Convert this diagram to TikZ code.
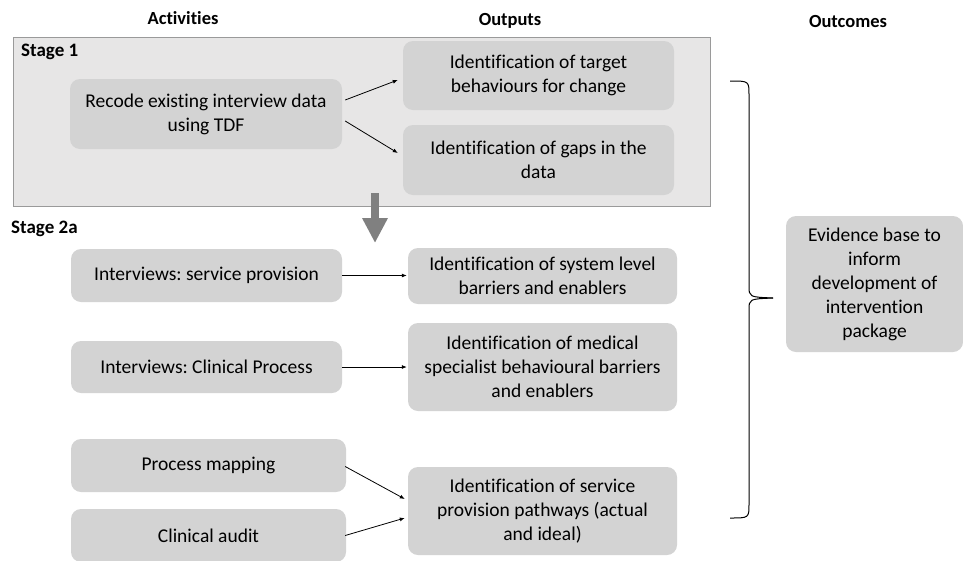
\documentclass[tikz,border=0pt]{standalone}
\usepackage{fontspec}
\setmainfont{Carlito}[Ligatures=NoCommon]
\usetikzlibrary{arrows.meta}
\definecolor{framegray}{HTML}{E7E6E6}
\definecolor{framedraw}{HTML}{9A9A9A}
\definecolor{boxgray}{HTML}{D3D3D3}
\definecolor{fatgray}{HTML}{808080}
\frenchspacing

\begin{document}
\begin{tikzpicture}[x=1pt,y=-1pt,
	box/.style={fill=boxgray,rounded corners=10pt,align=center,inner sep=2pt,font=\fontsize{19.5}{24}\selectfont},
	head/.style={font=\bfseries\fontsize{18.5}{20}\selectfont},
	stagelabel/.style={anchor=west,inner sep=0pt,font=\bfseries\fontsize{19}{20}\selectfont},
	frame/.style={fill=framegray,draw=framedraw,line width=0.8pt,inner sep=0pt},
	arr/.style={-{Latex[length=5pt,width=4pt]},line width=0.8pt},
	fatarrow/.style={-{Triangle[length=25pt,width=24pt]},line width=8pt,draw=fatgray},
	brace/.style={line width=1pt}
    ]
\useasboundingbox (0,0) rectangle (963,560);

% stage 1
\node[frame,minimum width=697pt,minimum height=169pt] (stageone) at (361.5,121.5) {};
\node[stagelabel] (stageonelabel) at (21,52) {Stage 1};
\node[box,minimum width=272pt,minimum height=70pt] (recode) at (206,114) {Recode existing interview data\\using TDF};
\node[box,minimum width=271pt,minimum height=69pt] (target) at (538.5,75.5) {Identification of target\\behaviours for change};
\node[box,minimum width=271pt,minimum height=70pt] (gaps) at (538.5,160) {Identification of gaps in the\\data};

% headers
\node[head] (activities) at (183,18) {Activities};
\node[head] (outputs) at (510,21) {Outputs};
\node[head] (outcomes) at (848,21) {Outcomes};

% stage 2a
\node[stagelabel] (stagetwolabel) at (11,229) {Stage 2a};
\node[box,minimum width=271pt,minimum height=53pt] (service) at (206.5,275.5) {Interviews: service provision};
\node[box,minimum width=269pt,minimum height=56pt] (system) at (542.5,276) {Identification of system level\\barriers and enablers};
\node[box,minimum width=271pt,minimum height=52pt] (clinical) at (206.5,367) {Interviews: Clinical Process};
\node[box,minimum width=269pt,minimum height=88pt] (medical) at (542.5,367) {Identification of medical\\specialist behavioural barriers\\and enablers};
\node[box,minimum width=275pt,minimum height=53pt] (mapping) at (208.5,465.5) {Process mapping};
\node[box,minimum width=275pt,minimum height=53pt] (audit) at (208.5,535.5) {Clinical audit};
\node[box,minimum width=269pt,minimum height=88pt] (pathways) at (542.5,511) {Identification of service\\provision pathways (actual\\and ideal)};

% outcome
\node[box,minimum width=177pt,minimum height=136pt] (evidence) at (874.5,284) {Evidence base to\\inform\\development of\\intervention\\package};

% connectors
\draw[arr] ([shift={(3pt,14pt)}]recode.east) -- ([shift={(-5pt,-4.5pt)}]target.west);
\draw[arr] ([shift={(3pt,-7pt)}]recode.east) -- ([shift={(-5pt,7pt)}]gaps.west);
\draw[arr] (service.east) -- ([xshift=-1pt]service.east -| system.west);
\draw[arr] (clinical.east) -- ([xshift=-1pt]clinical.east -| medical.west);
\draw[arr] ([shift={(-1pt,-1pt)}]mapping.east) -- ([shift={(-3pt,12pt)}]pathways.west);
\draw[arr] ([xshift=-1pt]audit.east) -- ([shift={(-3pt,-7pt)}]pathways.west);

\coordinate (downtop) at (375,193);
\coordinate (downbot) at (375,243);
\draw[fatarrow] (downtop) -- (downbot);

% bracket
\coordinate (bracetop) at (730,81);
\coordinate (bracetip) at (773,298);
\coordinate (bracebot) at (730,518);
\draw[brace] (bracetop) .. controls (749,81) .. (749,95) -- (749,286) .. controls (749,297) .. (bracetip);
\draw[brace] (bracetip) .. controls (749,299) .. (749,310) -- (749,504) .. controls (749,518) .. (bracebot);

\end{tikzpicture}
\end{document}
